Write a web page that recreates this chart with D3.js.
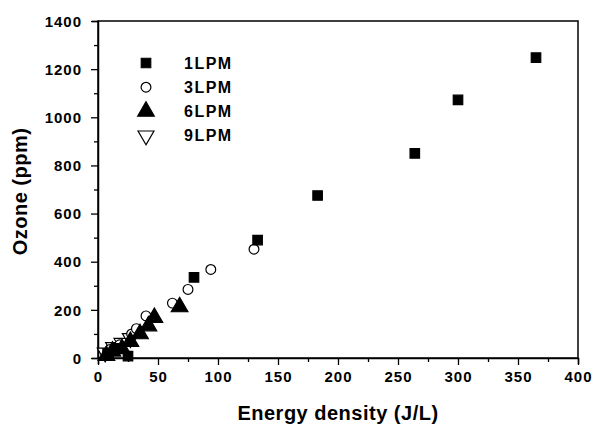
<!DOCTYPE html>
<html>
<head>
<meta charset="utf-8">
<script src="https://cdn.jsdelivr.net/npm/d3@7"></script>
<style>
  body { margin: 0; background: #fff; }
  text { font-family: Arial, "Liberation Sans", sans-serif; }
</style>
</head>
<body>
<svg id="chart" width="595" height="427"></svg>
<script>
// values: [energy density J/L, ozone ppm]
const series1LPM = [[8, 18], [16, 40], [25, 8], [80, 335], [133, 490], [183, 675], [264, 850], [300, 1072], [365, 1248]];
const series3LPM = [[10, 35], [18, 55], [28, 100], [32, 122], [40, 175], [62, 228], [75, 285], [94, 368], [130, 452]];
const series6LPM = [[7, 10], [12, 28], [20, 38], [27, 68], [35, 100], [42, 133], [47, 168], [68, 212]];
const series9LPM = [[6, 22], [13, 45], [20, 62], [27, 82]];
const seriesNames = ["1LPM", "3LPM", "6LPM", "9LPM"];
const xTicks = [0, 50, 100, 150, 200, 250, 300, 350, 400];
const yTicks = [0, 200, 400, 600, 800, 1000, 1200, 1400];

const svg = d3.select("#chart");
const margin = {left: 98, right: 17, top: 21, bottom: 69};
const W = 595, H = 427;

const x = d3.scaleLinear().domain([0, 400]).range([margin.left, W - margin.right]);
const y = d3.scaleLinear().domain([0, 1400]).range([H - margin.bottom, margin.top]);

// frame
svg.append("rect")
  .attr("x", x(0)).attr("y", y(1400))
  .attr("width", x(400) - x(0)).attr("height", y(0) - y(1400))
  .attr("fill", "none").attr("stroke", "#000").attr("stroke-width", 1.5);

// x axis
const xAxis = svg.append("g").attr("transform", `translate(0,${y(0)})`);
xAxis.call(d3.axisBottom(x).tickValues(d3.range(0, 401, 25)).tickSize(6).tickFormat(d => xTicks.includes(d) ? d : ""));
xAxis.select(".domain").attr("stroke-width", 1.5);
xAxis.selectAll(".tick line").attr("stroke-width", 1.3).attr("y2", d => xTicks.includes(d) ? 7 : 4);
xAxis.selectAll(".tick text").attr("y", 10).attr("dy", "0.9em")
  .style("font-size", "15px").style("font-weight", "bold").style("letter-spacing", "1px").attr("fill", "#000");

// y axis
const yAxis = svg.append("g").attr("transform", `translate(${x(0)},0)`);
yAxis.call(d3.axisLeft(y).tickValues(d3.range(0, 1401, 100)).tickSize(6).tickFormat(d => yTicks.includes(d) ? d : ""));
yAxis.select(".domain").attr("stroke-width", 1.5);
yAxis.selectAll(".tick line").attr("stroke-width", 1.3).attr("x2", d => yTicks.includes(d) ? -7 : -4);
yAxis.selectAll(".tick text").attr("x", -16).attr("dy", "0.35em")
  .style("font-size", "15px").style("font-weight", "bold").style("letter-spacing", "1px").attr("fill", "#000");

// axis titles
svg.append("text")
  .attr("x", (x(0) + x(400)) / 2).attr("y", 420)
  .attr("text-anchor", "middle")
  .style("font-size", "20px").style("font-weight", "bold").style("letter-spacing", "0.5px")
  .text("Energy density (J/L)");

svg.append("text")
  .attr("transform", `translate(27,${(y(0) + y(1400)) / 2 + 2}) rotate(-90)`)
  .attr("text-anchor", "middle")
  .style("font-size", "20px").style("font-weight", "bold").style("letter-spacing", "0.5px")
  .text("Ozone (ppm)");

// markers
const sym = {
  "1LPM": {type: d3.symbolSquare, size: 90, fill: "#000", rot: 0},
  "3LPM": {type: d3.symbolCircle, size: 75, fill: "#fff", rot: 0},
  "6LPM": {type: d3.symbolTriangle, size: 120, fill: "#000", rot: 0},
  "9LPM": {type: d3.symbolTriangle, size: 110, fill: "#fff", rot: 180}
};

function drawSeries(data, name) {
  const s = sym[name];
  svg.append("g").selectAll("path")
    .data(data)
    .enter().append("path")
    .attr("d", d3.symbol().type(s.type).size(s.size))
    .attr("transform", d => `translate(${x(d[0])},${y(d[1])}) rotate(${s.rot})`)
    .attr("fill", s.fill)
    .attr("stroke", "#000")
    .attr("stroke-width", 1.2);
}
// open markers first, solid ones on top
drawSeries(series9LPM, "9LPM");
drawSeries(series3LPM, "3LPM");
drawSeries(series6LPM, "6LPM");
drawSeries(series1LPM, "1LPM");

// legend
const legend = svg.append("g");
seriesNames.forEach((name, i) => {
  const s = sym[name];
  const ly = 63 + i * 24.2;
  legend.append("path")
    .attr("d", d3.symbol().type(s.type).size(s.size))
    .attr("transform", `translate(146,${ly}) rotate(${s.rot})`)
    .attr("fill", s.fill).attr("stroke", "#000").attr("stroke-width", 1.2);
  legend.append("text")
    .attr("x", 184).attr("y", ly).attr("dy", "0.36em")
    .style("font-size", "16px").style("font-weight", "bold").style("letter-spacing", "1.5px")
    .text(name);
});
</script>
</body>
</html>
